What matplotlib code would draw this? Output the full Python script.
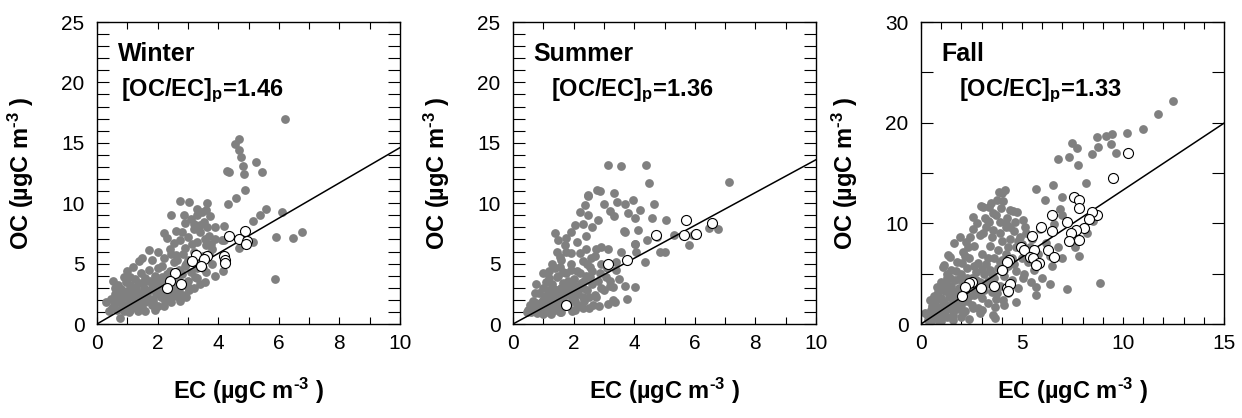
import numpy as np
import matplotlib.pyplot as plt
from matplotlib.ticker import MultipleLocator

plt.rcParams['font.family'] = ['Liberation Sans', 'DejaVu Sans']
plt.rcParams['mathtext.fontset'] = 'custom'
plt.rcParams['mathtext.bf'] = 'Liberation Sans:bold'
plt.rcParams['mathtext.rm'] = 'Liberation Sans:bold'
plt.rcParams['mathtext.default'] = 'bf'

seasons = ['Winter', 'Summer', 'Fall']
ratios = [1.46, 1.36, 1.33]

# (EC, OC) pairs
winter_gray = [
    (6.20, 17.0), (4.70, 15.35), (4.56, 14.9), (4.68, 14.4), (4.75, 13.8), (4.81, 13.1), (5.24, 13.4),
    (4.29, 12.7), (4.34, 12.55), (4.84, 12.4), (5.44, 12.55), (4.87, 11.1), (4.58, 10.4), (4.31, 9.9),
    (5.57, 9.55), (5.38, 9.0), (5.16, 8.55), (6.09, 9.3), (5.91, 7.2), (6.47, 7.1), (6.77, 7.6), (5.89, 3.7),
    (4.18, 8.1), (4.18, 6.95), (5.16, 6.8), (4.67, 6.3), (4.15, 4.4),
    (2.75, 10.2), (3.04, 10.1), (3.63, 10.0), (2.45, 9.0), (2.86, 9.05), (3.30, 9.55), (3.30, 9.0),
    (3.52, 8.45), (3.19, 8.3), (3.74, 8.9), (3.63, 8.05), (2.20, 7.5), (2.31, 7.1), (2.53, 6.7),
    (2.75, 6.95), (4.12, 6.95), (3.45, 9.3), (3.10, 8.7), (2.90, 8.4), (3.40, 7.6), (3.70, 7.3),
    (3.00, 7.2), (2.60, 7.7), (3.30, 6.8), (3.60, 6.5), (2.90, 6.3), (3.20, 6.0), (3.80, 6.2),
    (2.40, 6.2), (2.00, 6.0), (1.70, 6.1), (1.50, 5.5), (1.80, 5.3), (2.20, 5.5), (2.60, 5.7),
    (3.00, 5.3), (3.40, 5.0), (3.80, 5.0), (3.90, 4.0), (3.60, 4.3), (3.30, 4.6), (2.70, 4.5),
    (2.30, 4.1), (2.00, 4.6), (1.40, 5.2), (1.20, 4.7), (1.00, 4.4), (0.90, 3.9), (1.10, 3.9), (0.53, 3.6),
    (0.40, 1.07), (0.77, 0.52), (0.45, 2.1), (0.55, 1.6), (0.60, 2.5), (0.70, 1.9), (0.70, 3.2),
    (0.80, 2.9), (0.85, 1.4), (0.90, 2.2), (0.95, 3.5), (1.00, 1.6), (1.00, 2.7), (1.10, 1.2),
    (1.10, 3.2), (1.15, 2.0), (1.20, 2.5), (1.25, 3.7), (1.30, 1.5), (1.30, 2.9), (1.40, 2.2),
    (1.40, 3.4), (1.45, 4.2), (1.50, 1.3), (1.50, 2.6), (1.55, 3.0), (1.60, 1.8), (1.60, 3.8),
    (1.65, 2.3), (1.70, 4.5), (1.75, 2.8), (1.80, 1.6), (1.80, 3.3), (1.85, 2.1), (1.90, 4.0),
    (1.95, 2.6), (2.00, 1.5), (2.00, 3.1), (2.05, 3.6), (2.10, 2.2), (2.15, 4.8), (2.20, 2.8),
    (2.25, 1.9), (2.30, 3.4), (2.35, 2.5), (2.40, 4.4), (2.45, 1.8), (2.50, 3.0), (2.55, 5.1),
    (2.60, 2.3), (2.65, 3.7), (2.70, 2.7), (2.75, 1.9), (2.80, 4.1), (2.85, 3.2), (2.90, 2.4),
    (2.95, 5.0), (3.00, 3.6), (3.05, 2.8), (3.10, 4.3), (3.20, 3.0), (3.25, 3.9), (3.30, 5.5),
    (3.40, 3.3), (3.50, 4.6), (3.57, 3.5), (3.70, 5.8), (1.05, 1.0), (1.20, 1.4), (1.35, 1.1),
    (0.65, 1.2), (0.30, 1.8), (0.90, 1.1), (1.60, 1.1), (1.90, 1.2), (2.20, 1.5), (0.75, 2.4),
    (1.25, 1.9), (1.70, 2.0), (2.40, 2.1), (2.95, 2.2), (3.30, 3.8), (0.60, 3.0), (1.05, 2.3),
    (1.45, 1.7), (1.85, 2.9), (2.15, 3.9), (2.55, 4.2), (2.90, 4.8), (3.50, 5.6), (3.75, 6.6),
    (0.50, 1.3), (0.60, 1.9), (0.80, 1.7), (0.95, 2.5), (1.05, 2.0), (1.15, 2.7), (1.25, 3.1),
    (1.35, 2.5), (1.45, 2.0), (1.55, 3.5), (1.65, 2.7), (1.75, 3.6), (1.85, 1.8), (1.95, 3.4),
    (2.05, 2.5), (2.15, 3.2), (2.30, 2.0), (2.45, 3.4), (2.55, 2.6), (2.70, 3.4), (2.80, 2.2),
    (3.00, 3.1), (2.65, 5.3), (2.45, 5.8), (2.85, 5.8), (3.15, 6.6), (3.55, 7.0), (3.20, 7.9),
    (2.80, 7.6), (3.60, 9.4), (3.40, 8.2), (3.90, 8.0), (3.90, 7.0),
]
winter_white = [
    (4.90, 7.7), (4.37, 7.3), (4.68, 7.0), (4.95, 6.9), (4.92, 6.6), (3.63, 5.6), (3.27, 5.75),
    (3.12, 5.25), (3.52, 5.35), (3.43, 4.8), (4.20, 5.6), (4.22, 5.3), (4.24, 5.05), (2.57, 4.25),
    (2.40, 3.55), (2.77, 3.35), (2.30, 3.0),
]

summer_gray = [
    (3.12, 13.15), (3.56, 13.1), (4.38, 13.2), (4.48, 11.7), (7.12, 11.75), (2.77, 11.1), (2.88, 11.0),
    (2.46, 10.6), (3.32, 10.85), (2.38, 9.85), (2.99, 9.9), (3.43, 10.1), (3.68, 9.9), (3.96, 10.3),
    (4.66, 9.9), (3.21, 9.35), (3.78, 9.15), (4.18, 9.45), (2.49, 9.0), (3.32, 8.9), (4.01, 8.8),
    (4.60, 8.8), (5.04, 8.6), (3.67, 7.7), (4.42, 6.95), (4.03, 6.6), (4.75, 7.2), (5.32, 7.35),
    (5.81, 6.5), (6.48, 7.95), (6.75, 7.9), (5.93, 7.35), (4.86, 5.95), (5.01, 5.95), (4.36, 5.15),
    (3.21, 3.15), (3.68, 3.15), (4.03, 3.05), (3.76, 2.1), (3.37, 1.85), (3.12, 1.65),
    (1.37, 7.5), (1.48, 6.95), (1.76, 7.1), (2.03, 8.2), (2.31, 8.3), (2.47, 10.65),
    (3.68, 7.65), (4.12, 7.75), (4.01, 6.65), (4.07, 6.0), (3.57, 6.0), (3.13, 6.25), (2.75, 6.25),
    (2.91, 6.4), (2.42, 6.25), (2.20, 5.85), (2.58, 5.45), (1.76, 6.0), (1.92, 5.85), (1.54, 5.55),
    (1.54, 4.75), (0.99, 4.2), (1.10, 3.5), (0.71, 2.55), (0.55, 1.55), (0.49, 1.15), (1.65, 1.55),
    (2.20, 1.45), (2.64, 1.55), (2.75, 2.25), (3.30, 2.0), (3.30, 3.1), (2.53, 3.9), (2.86, 4.2),
    (3.08, 3.9), (3.41, 4.45), (3.41, 5.15), (2.20, 3.1), (2.31, 2.25), (1.98, 2.8),
    (0.45, 1.0), (0.60, 1.0), (0.70, 1.4), (0.80, 0.9), (0.90, 1.2), (0.95, 1.8), (1.00, 0.8),
    (1.05, 2.3), (1.10, 1.4), (1.15, 2.8), (1.20, 1.0), (1.25, 1.9), (1.30, 3.3), (1.35, 2.4),
    (1.40, 1.2), (1.45, 3.9), (1.50, 2.0), (1.55, 2.9), (1.60, 1.0), (1.65, 3.4), (1.70, 2.4),
    (1.75, 4.2), (1.80, 1.6), (1.85, 3.0), (1.90, 5.0), (1.95, 2.1), (2.00, 3.7), (2.05, 1.2),
    (2.10, 4.4), (2.15, 2.5), (2.25, 3.4), (2.30, 5.2), (2.35, 1.9), (2.40, 4.0), (2.45, 2.8),
    (2.50, 1.3), (2.55, 4.7), (2.60, 3.3), (2.70, 2.4), (2.80, 3.6), (2.85, 1.5), (2.90, 5.0),
    (3.00, 2.8), (3.10, 4.6), (0.65, 1.9), (0.85, 2.6), (0.75, 3.3), (1.00, 3.0), (1.20, 3.8),
    (1.40, 4.6), (1.60, 5.3), (1.30, 5.0), (1.70, 6.5), (1.45, 6.0), (2.10, 6.8), (2.40, 7.3),
    (1.90, 7.6), (2.60, 8.0), (2.20, 9.3), (2.80, 8.6), (1.25, 0.8), (1.55, 1.0), (1.95, 1.1),
    (2.30, 1.3), (0.55, 1.2), (1.10, 2.0), (1.50, 1.5), (1.80, 2.7), (2.05, 1.9), (2.30, 3.0),
    (1.65, 4.3), (1.05, 1.0),
    (0.60, 1.3), (0.75, 1.7), (0.90, 1.5), (1.00, 2.0), (1.15, 1.6), (1.20, 2.3), (1.30, 1.4),
    (1.35, 2.9), (1.45, 1.7), (1.50, 2.5), (1.60, 3.0), (1.65, 2.0), (1.75, 2.8), (1.80, 3.6),
    (1.90, 2.4), (2.00, 3.2), (2.10, 1.6), (2.15, 2.9), (2.20, 4.2), (2.35, 3.6), (2.50, 2.2),
    (2.60, 4.4), (2.70, 5.6), (2.90, 3.0), (3.20, 3.6), (3.50, 3.7), (1.20, 4.4), (1.50, 4.0),
    (1.90, 4.5), (2.45, 5.0),
]
summer_white = [
    (1.75, 1.55), (3.15, 4.95), (3.76, 5.3), (4.71, 7.35), (5.71, 8.6), (5.64, 7.35), (6.05, 7.45),
    (6.58, 8.4),
]

fall_gray = [
    (12.49, 22.2), (11.75, 20.9), (10.97, 19.4), (10.18, 19.0), (9.44, 18.85), (9.16, 18.65),
    (8.70, 18.6), (9.39, 17.85), (8.78, 17.6), (8.45, 16.9), (9.65, 17.0), (7.46, 18.0), (7.71, 17.5),
    (7.33, 16.55), (6.80, 16.35), (7.79, 15.8), (8.15, 14.0), (6.52, 13.8), (5.68, 13.4), (6.96, 12.65),
    (6.14, 12.35), (4.16, 13.35), (3.99, 13.05), (3.75, 12.35), (2.59, 10.6), (2.97, 11.7), (3.30, 10.25),
    (4.54, 11.25), (4.77, 11.1), (8.86, 4.1), (7.24, 3.45), (6.39, 3.95), (5.69, 3.65), (5.69, 2.9),
    (6.47, 5.75), (5.07, 4.6), (3.66, 0.55), (2.92, 1.05),
    (3.88, 13.1), (4.08, 12.2), (3.38, 11.65), (4.41, 11.3), (4.24, 10.5), (4.65, 10.15), (5.07, 10.3),
    (5.15, 9.65), (4.41, 9.65), (3.91, 10.15), (3.58, 9.35), (3.09, 9.0), (2.43, 8.65), (1.93, 8.6),
    (2.34, 7.65), (1.44, 6.7), (1.11, 5.7), (1.27, 5.0), (0.78, 3.7), (0.45, 2.4), (0.20, 1.05),
    (0.36, 0.4), (0.78, 1.2), (1.11, 0.75), (1.60, 1.4), (2.10, 1.05), (2.59, 1.55), (3.00, 1.4),
    (3.66, 1.7), (4.08, 2.4), (3.75, 3.05), (3.05, 11.6), (3.38, 10.15), (3.96, 11.5), (4.21, 10.0),
    (1.65, 8.0), (1.32, 6.85), (1.16, 5.85), (0.50, 1.4), (0.33, 0.75), (0.99, 0.25), (3.55, 0.9),
    (4.13, 1.9), (4.70, 2.2), (5.45, 4.2),
    (0.60, 1.0), (0.70, 2.0), (0.80, 0.6), (0.90, 1.6), (1.00, 2.6), (1.00, 4.2), (1.10, 1.1),
    (1.20, 2.0), (1.20, 3.3), (1.30, 0.7), (1.30, 4.6), (1.40, 1.6), (1.40, 2.7), (1.50, 3.8),
    (1.50, 5.4), (1.60, 0.9), (1.60, 2.2), (1.70, 3.1), (1.70, 4.4), (1.80, 1.5), (1.80, 6.2),
    (1.90, 2.6), (1.90, 3.6), (2.00, 5.0), (2.00, 1.9), (2.10, 7.2), (2.10, 4.2), (2.20, 3.0),
    (2.20, 1.3), (2.30, 5.6), (2.30, 2.3), (2.40, 3.7), (2.40, 6.6), (2.50, 4.6), (2.50, 1.9),
    (2.60, 2.9), (2.60, 7.7), (2.70, 5.2), (2.70, 3.6), (2.80, 1.6), (2.80, 6.1), (2.90, 4.2),
    (2.90, 8.8), (3.00, 2.6), (3.00, 7.0), (3.10, 5.0), (3.10, 3.4), (3.20, 9.6), (3.20, 6.0),
    (3.30, 4.3), (3.30, 2.1), (3.40, 7.7), (3.40, 5.4), (3.50, 3.2), (3.50, 8.6), (3.60, 6.6),
    (3.60, 4.6), (3.70, 2.5), (3.70, 10.8), (3.80, 7.4), (3.80, 5.6), (3.90, 3.8), (3.90, 9.0),
    (4.00, 6.4), (4.00, 8.2), (4.10, 4.8), (4.20, 7.0), (4.20, 9.6), (4.30, 5.8), (4.30, 3.1),
    (4.40, 8.4), (4.50, 6.6), (4.50, 4.4), (4.60, 9.2), (4.70, 7.6), (4.70, 5.3), (4.80, 3.6),
    (4.90, 8.6), (5.00, 6.6), (5.00, 7.9), (5.10, 5.0), (5.20, 9.0), (5.30, 6.2), (5.40, 7.6),
    (5.50, 8.4), (5.60, 5.4), (5.80, 7.0), (5.90, 9.4), (6.00, 4.6), (6.20, 8.0), (6.40, 6.8),
    (6.60, 9.9), (6.80, 7.6), (7.00, 6.6), (7.00, 10.8), (7.60, 7.6), (7.80, 6.8), (8.20, 9.0),
    (8.50, 10.2), (6.90, 11.4), (0.50, 0.3), (0.90, 0.2), (1.60, 0.4), (2.40, 0.5), (2.00, 0.7),
    (1.25, 1.4), (0.55, 1.8), (0.65, 2.8), (0.85, 3.2), (1.05, 3.6), (1.45, 4.6), (1.75, 5.3),
    (2.05, 6.1), (2.25, 8.1), (2.55, 9.4), (2.75, 10.0), (3.15, 10.5), (3.45, 12.0), (3.55, 11.0),
    (1.00, 1.2), (1.10, 2.2), (1.30, 1.8), (1.40, 3.2), (1.60, 2.8), (1.70, 1.9), (1.80, 3.3),
    (1.90, 4.5), (2.00, 2.5), (2.20, 3.6), (2.30, 4.6), (2.40, 2.8), (2.60, 3.5), (2.70, 4.4),
    (2.90, 3.0), (3.00, 5.5), (3.20, 4.0), (3.30, 6.6), (3.50, 5.0), (3.70, 3.6), (3.90, 6.2),
    (4.10, 5.4), (4.30, 7.6), (4.60, 6.0), (4.80, 8.2), (5.30, 7.0), (2.60, 5.8), (2.20, 6.8),
    (1.30, 3.9), (0.80, 2.5),
]
fall_white = [
    (10.26, 16.94), (9.49, 14.55), (7.57, 12.6), (7.84, 12.35), (7.82, 11.5), (6.47, 10.85),
    (8.70, 10.8), (8.45, 11.1), (8.34, 10.4), (7.21, 10.1), (8.08, 9.55), (7.67, 9.35), (7.41, 9.0),
    (7.81, 8.35), (7.32, 8.2), (5.94, 9.65), (6.47, 9.25), (5.51, 8.73), (4.97, 7.6), (5.12, 7.35),
    (5.60, 7.4), (6.29, 7.34), (6.57, 6.68), (5.40, 6.7), (5.53, 6.6), (5.84, 6.08), (5.70, 5.9),
    (4.37, 6.35), (4.24, 6.2), (4.01, 5.4), (3.63, 3.8), (4.26, 3.54), (4.42, 3.97), (4.30, 3.3),
    (2.97, 3.54), (2.51, 4.13), (2.39, 4.04), (2.19, 3.64), (2.01, 2.78),
]

gray_sets = [winter_gray, summer_gray, fall_gray]
white_sets = [winter_white, summer_white, fall_white]
xlims = [10, 10, 15]
ylims = [25, 25, 30]
x_major = [2, 2, 5]
y_major = [5, 5, 10]
y_minor = [1, 1, 5]

fig = plt.figure(figsize=(12.42, 4.18), dpi=100)
lefts = [97, 513, 921]
unit_label = 'µgC m$^{\u2010 3}$ )'.replace('\u2010 ', '\u2010')

for i in range(3):
    ax = fig.add_axes([lefts[i] / 1242, 94 / 418, 303 / 1242, 302 / 418])
    g = np.array(gray_sets[i]).T
    w = np.array(white_sets[i]).T
    ax.scatter(g[0], g[1], s=40, color='#808080', lw=0, zorder=2)
    ax.plot([0, xlims[i]], [0, ratios[i] * xlims[i]], color='black', lw=1.1, zorder=3)
    ax.scatter(w[0], w[1], s=52, facecolor='white', edgecolor='black', lw=0.8, zorder=4)

    ax.set_xlim(0, xlims[i])
    ax.set_ylim(0, ylims[i])
    ax.xaxis.set_major_locator(MultipleLocator(x_major[i]))
    ax.xaxis.set_minor_locator(MultipleLocator(1))
    ax.yaxis.set_major_locator(MultipleLocator(y_major[i]))
    ax.yaxis.set_minor_locator(MultipleLocator(y_minor[i]))
    ax.tick_params(which='both', direction='in', top=True, right=True, width=0.8)
    ax.tick_params(axis='x', which='both', length=5)
    ax.tick_params(axis='y', which='both', length=8.5)
    ax.tick_params(axis='x', labelsize=15, pad=7)
    ax.tick_params(axis='y', labelsize=15, pad=9)
    for sp in ax.spines.values():
        sp.set_linewidth(1.0)

    ax.set_xlabel('EC (' + unit_label, fontsize=17, fontweight='bold')
    ax.set_ylabel('OC (' + unit_label, fontsize=17, fontweight='bold')
    ax.xaxis.set_label_coords(0.5, -0.17)
    ax.yaxis.set_label_coords(-0.20, 0.5)

    ax.text(0.068, 0.872, seasons[i], transform=ax.transAxes, fontsize=18,
            fontweight='bold', va='baseline')
    tx = 0.079 if i == 0 else 0.125
    ax.text(tx, 0.753, '[OC/EC]$_{p}$=%.2f' % ratios[i], transform=ax.transAxes,
            fontsize=17, fontweight='bold', va='baseline')

fig.savefig('out.png', dpi=100)
